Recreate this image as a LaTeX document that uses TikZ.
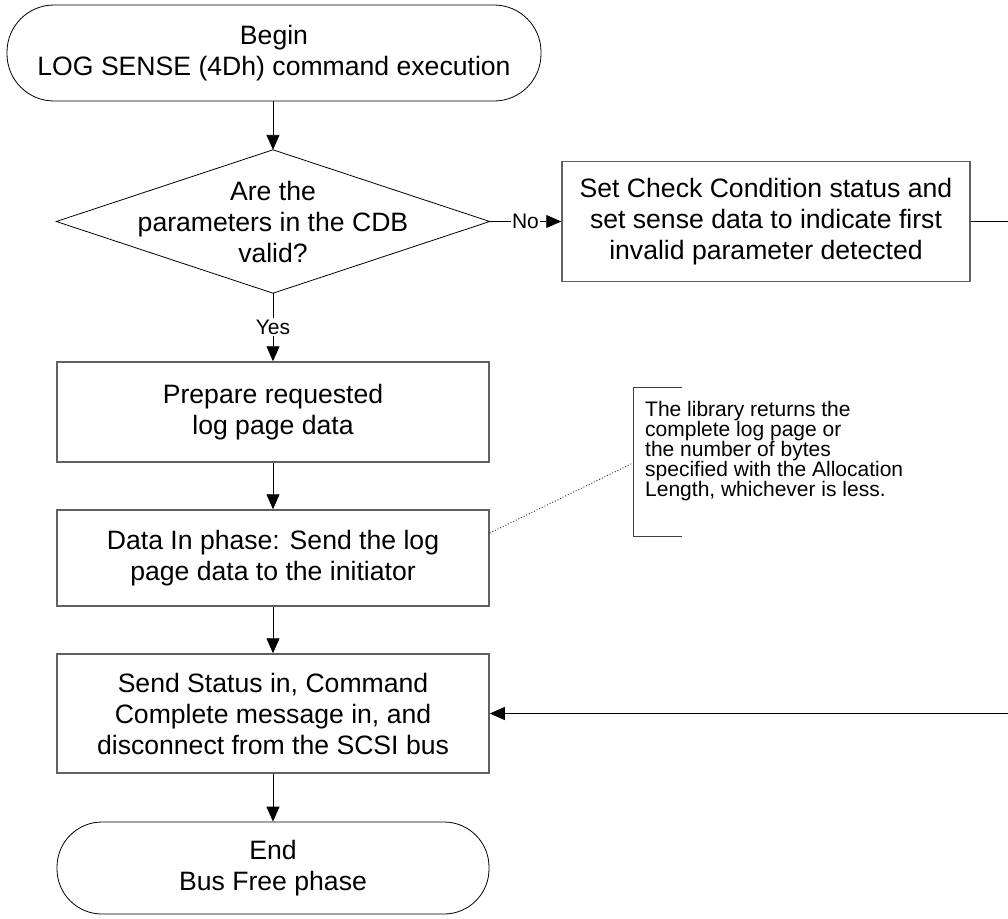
\documentclass[tikz,border=0pt]{standalone}
\usepackage{fontspec}
\setmainfont{Liberation Sans}
\usetikzlibrary{arrows.meta}

\begin{document}
\begin{tikzpicture}[x=1pt,y=-1pt,
  bigtext/.style={font=\fontsize{26.6}{31}\selectfont, align=center},
  smalltext/.style={font=\fontsize{21}{20}\selectfont},
  procbox/.style={bigtext, draw=black!62, line width=1.5pt, minimum width=432pt, inner sep=0pt},
  terminal/.style={bigtext, draw=black, line width=0.8pt, inner sep=0pt},
  flow/.style={draw=black, line width=0.9pt, -{Triangle[length=15pt,width=13pt]}},
  edgelabel/.style={smalltext, fill=white, inner sep=1.5pt}
]
\useasboundingbox (0,0) rectangle (1008,918);

% start and end terminals
\node[terminal, minimum width=534pt, minimum height=96pt, rounded corners=47pt] (begin) at (274,53)
  {Begin\\LOG SENSE (4Dh) command execution};
\node[terminal, minimum width=432pt, minimum height=92pt, rounded corners=45pt] (end) at (273,868)
  {End\\Bus Free phase};

% decision
\node[bigtext, minimum width=433pt, minimum height=143pt, inner sep=0pt] (dec) at (273,221.5)
  {Are the\\parameters in the CDB\\valid?};
\draw[line width=0.8pt] (dec.north) -- (dec.east) -- (dec.south) -- (dec.west) -- cycle;

% process steps
\node[procbox, minimum width=408pt, minimum height=120pt] (check) at (766,221.5)
  {Set Check Condition status and\\set sense data to indicate first\\invalid parameter detected};
\node[procbox, minimum height=100pt] (prep) at (273,412)
  {Prepare requested\\log page data};
\node[procbox, minimum height=96pt] (data) at (273,558)
  {Data In phase: Send the log\\page data to the initiator};
\node[procbox, minimum height=119pt] (status) at (273,713.5)
  {Send Status in, Command\\Complete message in, and\\disconnect from the SCSI bus};

% annotation with its bracket
\node[smalltext, align=left, anchor=west, inner sep=0pt] (note) at (645,451)
  {The library returns the\\complete log page or\\the number of bytes\\specified with the Allocation\\Length, whichever is less.};
\coordinate (bracketmid) at (633,463);
\draw[black!75, line width=0.9pt] (682,387) -| (633,536) -- (682,536);
\draw[black!85, line width=0.9pt, dotted] ([yshift=25pt]data.east) -- (bracketmid);

% connectors
\draw[flow] (begin.south -| dec.north) -- (dec.north);
\draw[flow] (dec.east) -- node[edgelabel] {No} (check.west);
\draw[flow] (dec.south) -- node[edgelabel] {Yes} (prep.north);
\draw[flow] (prep.south) -- (data.north);
\draw[flow] (data.south) -- (status.north);
\draw[flow] (status.south) -- (end.north);
\draw[flow] (check.east) -- ++(70,0) |- (status.east);

\end{tikzpicture}
\end{document}
